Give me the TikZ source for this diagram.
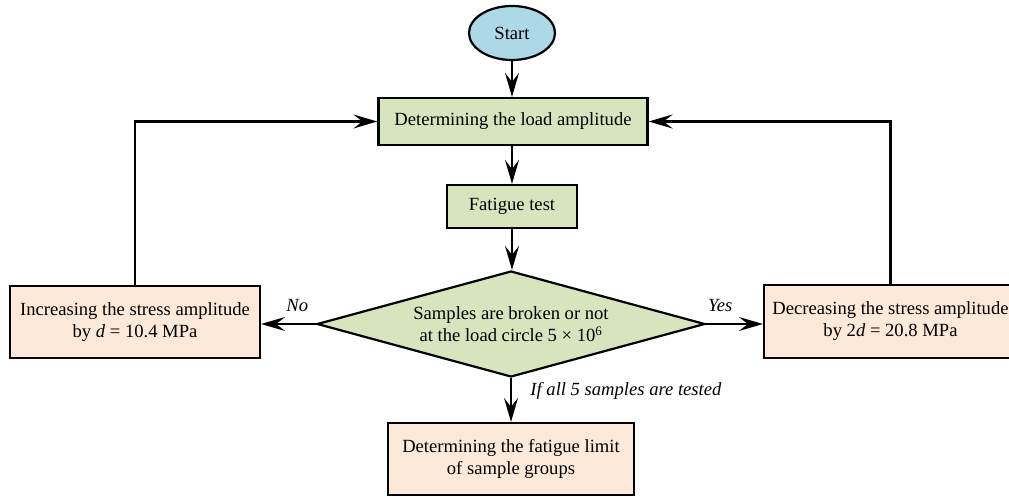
\documentclass[tikz,border=0pt]{standalone}
\usepackage{fontspec}
\setmainfont{Liberation Serif}
\usetikzlibrary{shapes.geometric,arrows.meta}
\definecolor{gfill}{RGB}{215,228,189}
\definecolor{pfill}{RGB}{253,233,217}
\definecolor{bfill}{RGB}{173,216,230}
\begin{document}
\begin{tikzpicture}[x=1pt,y=-1pt,
  every node/.style={font=\fontsize{18.6}{22}\selectfont},
  base/.style={draw=black, line width=2.2pt, align=center, inner sep=0pt},
  gbox/.style={base, rectangle, fill=gfill},
  pbox/.style={base, rectangle, fill=pfill},
  arr/.style={line width=2.2pt, -{Stealth[length=24pt,width=14pt,inset=9pt]}},
  lbl/.style={font=\fontsize{18.6}{22}\selectfont\itshape}]
\useasboundingbox (0,0) rectangle (1009,497);
\node[base, ellipse, fill=bfill, minimum width=86pt, minimum height=54pt] (start) at (512,33) {Start};
\node[gbox, minimum width=269pt, minimum height=47pt] (load) at (513,121.5) {Determining the load amplitude};
\node[gbox, minimum width=130pt, minimum height=43pt] (fat) at (512,206.5) {Fatigue test};
\node[base, diamond, fill=gfill, aspect=3.66, minimum width=388pt, minimum height=106pt] (dec) at (511,324) {Samples are broken or not\\at the load circle 5 × 10\textsuperscript{6}};
\node[pbox, minimum width=250pt, minimum height=72pt] (inc) at (135,322) {Increasing the stress amplitude\\by \textit{d} = 10.4 MPa};
\node[pbox, minimum width=253pt, minimum height=73pt] (decr) at (890.5,321.5) {Decreasing the stress amplitude\\by 2\textit{d} = 20.8 MPa};
\node[pbox, minimum width=246pt, minimum height=72pt] (lim) at (511,459) {Determining the fatigue limit\\of sample groups};
\draw[arr] (start.south) -- (start.south|-load.north);
\draw[arr] (load.south-|fat.north) -- (fat.north);
\draw[arr] (fat.south) -- (fat.south|-dec.north);
\draw[arr] (dec.west) -- (inc.east|-dec.west) node[lbl, pos=0.34, above=8pt] (no) {No};
\draw[arr] (dec.east) -- (decr.west|-dec.east) node[lbl, pos=0.25, above=8pt] (yes) {Yes};
\draw[arr] (dec.south) -- (lim.north) node[lbl, pos=0.3, right=15pt] (all) {If all 5 samples are tested};
\draw[arr] (inc.north) |- (load.west);
\draw[arr] (decr.north) |- (load.east);
\end{tikzpicture}
\end{document}
